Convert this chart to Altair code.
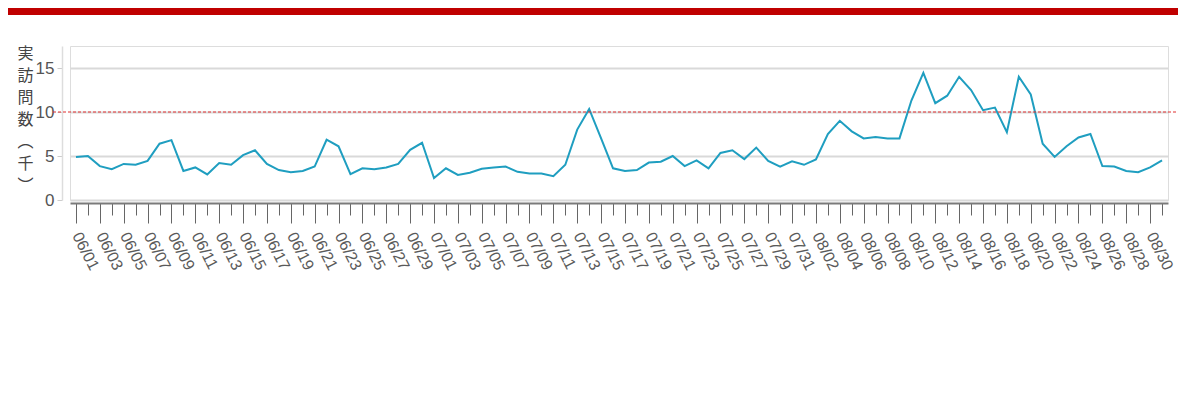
import json
import altair as alt
import pandas as pd

# ---- data ----
dates = [d.strftime("%m/%d") for d in pd.date_range("2023-06-01", "2023-08-31", freq="D")]
visits = [
    4.9, 5.0, 3.85, 3.5, 4.1, 4.0, 4.45, 6.4, 6.8, 3.3,
    3.7, 2.9, 4.2, 4.0, 5.1, 5.65, 4.1, 3.4, 3.15, 3.3,
    3.8, 6.85, 6.1, 2.95, 3.6, 3.5, 3.7, 4.1, 5.7, 6.5,
    2.5, 3.6, 2.85, 3.1, 3.55, 3.7, 3.8, 3.2, 3.0, 3.0,
    2.7, 4.0, 8.0, 10.35, 7.0, 3.6, 3.3, 3.4, 4.25, 4.35,
    5.0, 3.85, 4.5, 3.6, 5.35, 5.65, 4.65, 5.95, 4.45, 3.8,
    4.4, 4.0, 4.6, 7.5, 9.0, 7.8, 7.0, 7.15, 7.0, 7.0,
    11.3, 14.45, 11.0, 11.85, 14.0, 12.5, 10.2, 10.5, 7.7, 14.0,
    12.0, 6.4, 4.9, 6.1, 7.1, 7.5, 3.85, 3.8, 3.3, 3.15,
    3.7, 4.5,
]
threshold = [10]
y_ticks = [0, 5, 10, 15]
y_title = ["実", "訪", "問", "数", "︵", "千", "︶"]

labeled = dates[::2]
labeled_js = json.dumps(labeled)

df = pd.DataFrame({"date": dates, "value": visits})
df_thr = pd.DataFrame({"thr": threshold})

W, H = 1098, 154

x_enc = alt.X(
    "date:O",
    sort=dates,
    scale=alt.Scale(type="point", padding=0.5, domain=dates),
    axis=alt.Axis(
        title=None,
        values=dates,
        labelExpr=f"indexof({labeled_js}, datum.value) >= 0 ? datum.label : ''",
        tickSize={"condition": {"test": f"indexof({labeled_js}, datum.value) >= 0", "value": 20}, "value": 12},
        tickColor="#666666",
        tickWidth=1,
        domainColor="#7a7a7a",
        domainWidth=2,
        labelAngle=63,
        labelAlign="left",
        labelBaseline="middle",
        labelFont="Liberation Sans",
        labelFontSize=16,
        labelColor="#5a5a5a",
        labelPadding=10,
        labelOverlap=False,
        offset=3,
        grid=False,
    ),
)

y_scale = alt.Scale(domain=[0, 17.5], nice=False)

line = alt.Chart(df).mark_line(color="#1f9ec0", strokeWidth=2).encode(
    x=x_enc,
    y=alt.Y(
        "value:Q",
        scale=y_scale,
        axis=alt.Axis(
            values=y_ticks,
            title=y_title,
            titleAngle=0,
            titleAlign="center",
            titleBaseline="top",
            titleX=-37,
            titleY=-1,
            titleFont="Noto Sans CJK JP",
            titleFontSize=16,
            titleFontWeight="normal",
            titleLineHeight=22,
            titleColor="#444444",
            labelFont="Liberation Sans",
            labelFontSize=17,
            labelColor="#555555",
            labelPadding=3,
            tickSize=5,
            tickColor="#cccccc",
            domainColor="#dddddd",
            domainWidth=1.5,
            offset=8,
            gridColor="#d9d9d9",
            gridWidth=2,
        ),
    ),
)

rule = alt.Chart(df_thr).mark_rule(color="#e03030", strokeWidth=1, strokeDash=[3, 2]).encode(
    y=alt.Y("thr:Q", scale=y_scale),
    x=alt.value(-17),
    x2=alt.value(W + 14),
)

bar = alt.Chart(df_thr).mark_rect(color="#c00000").encode(
    x=alt.value(-62),
    x2=alt.value(W + 10),
    y=alt.value(-38),
    y2=alt.value(-31),
)

chart = alt.layer(line, rule, bar).properties(
    width=W,
    height=H,
    padding={"left": 62, "top": 38, "right": 10, "bottom": 190},
    autosize=alt.AutoSizeParams(type="none"),
).configure_view(
    stroke="#ececec",
    strokeWidth=2,
).configure(background="white")

chart.save("out.html", embed_options={"renderer": "svg", "actions": False})
